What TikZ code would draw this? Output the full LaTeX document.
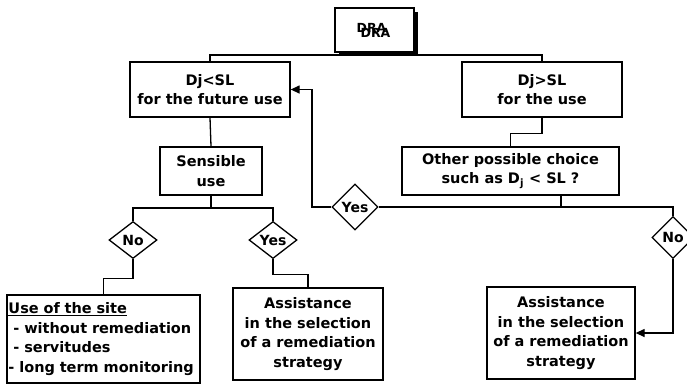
\documentclass[tikz,border=0pt]{standalone}
\usepackage{fontspec}
\setmainfont{DejaVu Sans}
\usetikzlibrary{arrows.meta,shapes.geometric,shadows}
\newcommand\myfs{\fontsize{14.5}{19.5}\selectfont\bfseries}
\newcommand\mydfs{\fontsize{14}{14}\selectfont\bfseries}
\begin{document}
\begin{tikzpicture}[x=1pt,y=-1pt,
  box/.style={draw,line width=1.3pt,align=center,font=\myfs,inner sep=1pt,fill=white},
  dia/.style={draw,diamond,line width=1.3pt,inner sep=0pt,font=\mydfs,fill=white},
  link/.style={line width=1.3pt},
  arr/.style={link,-{Triangle[length=9pt,width=8pt]}}]
\useasboundingbox (0,0) rectangle (687,384);
% boxes
\node[box,minimum width=79pt,minimum height=44pt,font=\bfseries\fontsize{12.5}{12.5}\selectfont,
  drop shadow={shadow xshift=4pt,shadow yshift=-4pt,opacity=1,fill=black}] (dra) at (374.5,30)
  {\rlap{\raisebox{3pt}{\hspace{-2pt}DRA}}\hspace{2pt}\raisebox{-2pt}{DRA}};
\node[box,minimum width=160pt,minimum height=55pt] (left) at (210,89.5) {Dj<SL\\for the future use};
\node[box,minimum width=160pt,minimum height=55pt] (right) at (542,89.5) {Dj>SL\\for the use};
\node[box,minimum width=102pt,minimum height=48pt] (sens) at (211,171) {Sensible\\use};
\node[box,minimum width=217pt,minimum height=48pt] (other) at (510.5,171) {Other possible choice\\such as D\textsubscript{j} < SL ?};
\node[box,minimum width=193pt,minimum height=88pt,text width=190pt,align=left] (use) at (103.5,339)
  {\underline{Use of the site}\\\hspace{5pt}- without remediation\\\hspace{5pt}- servitudes\\- long term monitoring};
\node[box,minimum width=150pt,minimum height=92pt] (as1) at (308,334) {Assistance\\in the selection\\of a remediation\\strategy};
\node[box,minimum width=148pt,minimum height=92pt] (as2) at (561,333) {Assistance\\in the selection\\of a remediation\\strategy};
% diamonds
\node[dia,minimum width=46pt,minimum height=46pt] (yesM) at (355,207) {Yes};
\node[dia,minimum width=42pt,minimum height=42pt] (noR) at (673,237.5) {No};
\node[dia,minimum width=48pt,minimum height=37pt] (noL) at (133,240) {No};
\node[dia,minimum width=48pt,minimum height=37pt] (yesL) at (273,240) {Yes};
% helper coordinates
\coordinate (topJ) at (376,55);
\coordinate (sensJ) at (211,208);
\coordinate (otherJ) at (561,207);
\coordinate (bendY) at (312,89.5);
% connectors
\draw[link] (left.north) |- (topJ) -| (right.north);
\draw[link] (left.south) -- (sens.north);
\draw[link] (right.south) -- ++(0,16) -| (other.north);
\draw[link] (sens.south) -- (sensJ);
\draw[link] (noL.north) |- (sensJ) -| (yesL.north);
\draw[link] (noL.south) -- ++(0,19) -| (use.north);
\draw[link] (yesL.south) -- ++(0,15) -| (as1.north);
\draw[link] (other.south -| otherJ) -- (otherJ);
\draw[link] (yesM.east) -| (noR.north);
\draw[arr] (yesM.west) -| (bendY) -- (left.east);
\draw[arr] (noR.south) |- (as2.east);
\end{tikzpicture}
\end{document}
